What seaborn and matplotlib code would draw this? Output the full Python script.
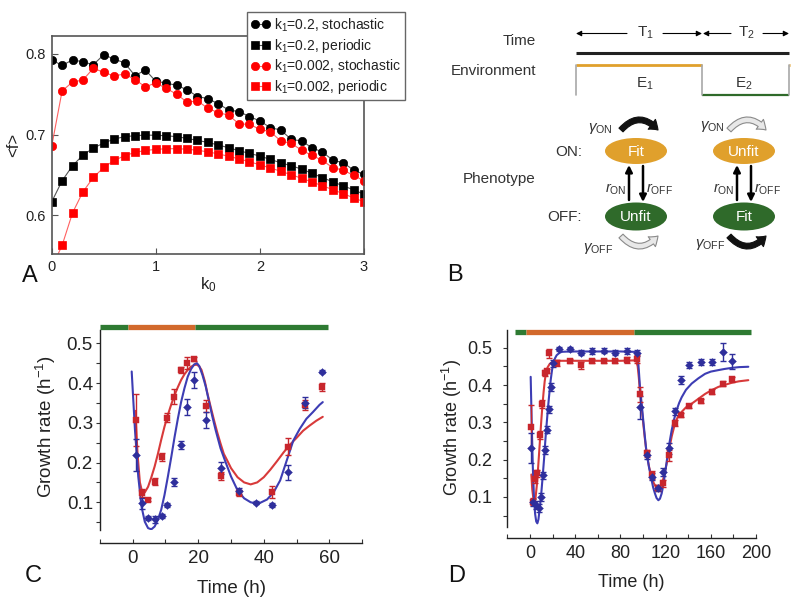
import numpy as np
import pandas as pd
import matplotlib
matplotlib.use('Agg')
import matplotlib.pyplot as plt
import seaborn as sns
from matplotlib.patches import Ellipse, FancyArrowPatch

# ---------------- DATA ----------------
# Panel A
k0 = [0.0, 0.1, 0.2, 0.3, 0.4, 0.5, 0.6, 0.7, 0.8, 0.9, 1.0, 1.1, 1.2, 1.3, 1.4, 1.5,
      1.6, 1.7, 1.8, 1.9, 2.0, 2.1, 2.2, 2.3, 2.4, 2.5, 2.6, 2.7, 2.8, 2.9, 3.0]
stoch_k1_02 = [0.7925, 0.7855, 0.7925, 0.7900, 0.7865, 0.7988, 0.7934, 0.7888, 0.7728, 0.7800,
               0.7658, 0.7638, 0.7608, 0.7555, 0.7470, 0.7445, 0.7380, 0.7304, 0.7284, 0.7222,
               0.7168, 0.7085, 0.7056, 0.6940, 0.6920, 0.6836, 0.6783, 0.6683, 0.6650, 0.6560, 0.6505]
period_k1_02 = [0.6166, 0.6427, 0.6613, 0.6745, 0.6832, 0.6894, 0.6944, 0.6973, 0.6985, 0.6993,
                0.6990, 0.6985, 0.6973, 0.6952, 0.6927, 0.6902, 0.6870, 0.6836, 0.6799, 0.6766,
                0.6733, 0.6691, 0.6650, 0.6613, 0.6572, 0.6520, 0.6466, 0.6414, 0.6364, 0.6315, 0.6260]
stoch_k1_0002 = [0.6855, 0.7540, 0.7650, 0.7675, 0.7820, 0.7770, 0.7725, 0.7750, 0.7680, 0.7590,
                 0.7640, 0.7570, 0.7500, 0.7400, 0.7416, 0.7325, 0.7270, 0.7240, 0.7130, 0.7126,
                 0.7064, 0.7035, 0.6920, 0.6890, 0.6807, 0.6740, 0.6680, 0.6588, 0.6560, 0.6493, 0.6427]
period_k1_0002 = [0.5350, 0.5627, 0.6029, 0.6290, 0.6468, 0.6592, 0.6679, 0.6737, 0.6778, 0.6803,
                  0.6815, 0.6824, 0.6824, 0.6818, 0.6805, 0.6785, 0.6760, 0.6730, 0.6698, 0.6662,
                  0.6625, 0.6585, 0.6545, 0.6502, 0.6458, 0.6412, 0.6365, 0.6317, 0.6267, 0.6216, 0.6166]
legend_labels = ['k$_1$=0.2, stochastic', 'k$_1$=0.2, periodic',
                 'k$_1$=0.002, stochastic', 'k$_1$=0.002, periodic']

# Panel C
C_red_t = [0.9, 2.9, 4.7, 6.8, 8.8, 10.6, 12.6, 14.6, 16.6, 18.6, 22.3, 27.0, 32.4, 42.6, 47.5, 52.6, 57.7]
C_red_v = [0.307, 0.123, 0.106, 0.152, 0.213, 0.313, 0.366, 0.433, 0.450, 0.460, 0.342, 0.165,
           0.124, 0.127, 0.240, 0.345, 0.391]
C_red_e = [0.065, 0.010, 0.004, 0.008, 0.010, 0.012, 0.020, 0.008, 0.015, 0.005, 0.015, 0.010,
           0.008, 0.015, 0.022, 0.012, 0.010]
C_blue_t = [0.9, 2.9, 4.7, 6.8, 8.8, 10.6, 12.6, 14.6, 16.6, 18.6, 22.3, 27.0, 32.4, 37.5, 42.6, 47.5, 52.6, 57.7]
C_blue_v = [0.219, 0.097, 0.061, 0.057, 0.066, 0.092, 0.150, 0.243, 0.339, 0.408, 0.306, 0.186,
            0.128, 0.099, 0.093, 0.175, 0.351, 0.429]
C_blue_e = [0.040, 0.015, 0.005, 0.008, 0.005, 0.005, 0.010, 0.010, 0.020, 0.020, 0.020, 0.015,
            0.008, 0.004, 0.004, 0.020, 0.015, 0.005]
C_bluefit_t = [-0.3, 0.7, 1.7, 2.7, 3.7, 4.7, 5.7, 6.7, 7.7, 8.7, 9.7, 10.75, 11.8, 12.8, 13.8, 14.8,
               15.8, 16.8, 17.8, 18.8, 19.6, 20.3, 21.3, 22.3, 23.3, 24.3, 25.3, 26.8, 28.3, 30,
               32, 34, 36, 37.5, 39, 41, 43, 45, 47, 49, 51, 53, 55, 57, 58]
C_bluefit_v = [0.429, 0.282, 0.165, 0.089, 0.051, 0.035, 0.032, 0.039, 0.056, 0.081, 0.118, 0.165,
               0.215, 0.265, 0.311, 0.353, 0.387, 0.416, 0.435, 0.447, 0.450, 0.443, 0.420, 0.391,
               0.353, 0.316, 0.282, 0.236, 0.202, 0.165, 0.130, 0.110, 0.100, 0.0975, 0.099, 0.107,
               0.125, 0.155, 0.205, 0.255, 0.285, 0.310, 0.327, 0.345, 0.352]
C_redfit_t = [0.8, 1.5, 2.2, 3.0, 3.7, 4.7, 5.7, 6.7, 7.7, 8.7, 9.7, 10.75, 11.8, 12.8, 13.8, 14.8,
              15.8, 16.8, 17.8, 18.8, 19.6, 20.3, 21.0, 22.0, 22.8, 23.8, 24.8, 25.8, 26.8, 27.8,
              28.8, 30, 32, 34, 36, 38, 40, 42, 44, 46, 48, 50, 52, 54, 56, 58]
C_redfit_v = [0.330, 0.220, 0.150, 0.122, 0.125, 0.139, 0.163, 0.190, 0.222, 0.257, 0.290, 0.320,
              0.347, 0.370, 0.390, 0.408, 0.422, 0.433, 0.441, 0.4455, 0.446, 0.442, 0.433, 0.405,
              0.374, 0.340, 0.307, 0.276, 0.248, 0.222, 0.206, 0.186, 0.163, 0.150, 0.145, 0.150,
              0.163, 0.182, 0.203, 0.225, 0.245, 0.262, 0.280, 0.293, 0.305, 0.315]
C_env_edges = [-10, -1.3, 19.0, 59.5]

# Panel D
D_red_t = [0.6, 2.9, 4.7, 6.5, 8.8, 10.6, 13.0, 14.7, 16.5, 24.2, 35.4, 45.1, 54.9, 65.5, 75.2, 85.5,
           94.4, 97.3, 103.2, 108.3, 113.0, 118.0, 123.0, 128.3, 133.6, 140.7, 151.3, 161.4, 171.1, 179.0]
D_red_v = [0.288, 0.087, 0.147, 0.163, 0.266, 0.349, 0.431, 0.438, 0.485, 0.460, 0.465, 0.453,
           0.464, 0.464, 0.464, 0.468, 0.470, 0.375, 0.217, 0.159, 0.123, 0.136, 0.212, 0.297,
           0.320, 0.344, 0.357, 0.382, 0.404, 0.415]
D_red_e = [0.058, 0.010, 0.010, 0.010, 0.010, 0.010, 0.008, 0.006, 0.012, 0.008, 0.006, 0.010,
           0.006, 0.006, 0.006, 0.008, 0.010, 0.020, 0.010, 0.010, 0.008, 0.010, 0.015, 0.008,
           0.006, 0.006, 0.006, 0.006, 0.006, 0.006]
D_blue_t = [0.6, 2.9, 5.3, 7.7, 9.4, 11.2, 13.0, 14.7, 16.5, 18.3, 20.6, 26.0, 35.4, 45.1, 54.9, 65.5,
            75.2, 85.5, 94.4, 97.3, 103.2, 108.3, 113.0, 118.0, 123.0, 128.3, 133.6, 140.7, 151.3,
            161.4, 171.1, 179.0]
D_blue_v = [0.230, 0.085, 0.078, 0.070, 0.100, 0.158, 0.226, 0.280, 0.335, 0.395, 0.458, 0.496,
            0.496, 0.487, 0.492, 0.492, 0.487, 0.492, 0.487, 0.340, 0.212, 0.154, 0.123, 0.167,
            0.230, 0.329, 0.413, 0.455, 0.462, 0.462, 0.489, 0.464]
D_blue_e = [0.040, 0.010, 0.010, 0.010, 0.010, 0.010, 0.010, 0.010, 0.010, 0.010, 0.010, 0.006,
            0.006, 0.006, 0.008, 0.006, 0.006, 0.008, 0.008, 0.030, 0.010, 0.010, 0.008, 0.010,
            0.015, 0.010, 0.010, 0.008, 0.008, 0.008, 0.025, 0.020]
D_bluefit_t = [0.6, 1.5, 2.5, 3.5, 4.5, 5.5, 6.5, 7.5, 8.8, 10, 11.2, 12.4, 13.6, 14.8, 16, 17.2, 18.3,
               19.5, 20.6, 22, 23.6, 26, 28, 35, 60, 80, 92, 94, 95.3, 96.3, 97.3, 98.8, 100.2,
               101.7, 103.2, 105.4, 107.6, 109, 110.6, 112, 113.6, 115, 116.5, 118, 119.5, 121,
               122.4, 124, 125.4, 127.5, 129.8, 132, 134.2, 138, 143.1, 149, 154.9, 160, 166.7,
               172, 178.5, 185, 193.2]
D_bluefit_v = [0.422, 0.300, 0.180, 0.100, 0.055, 0.034, 0.029, 0.040, 0.074, 0.110, 0.154, 0.200,
               0.252, 0.298, 0.342, 0.380, 0.413, 0.440, 0.458, 0.471, 0.480, 0.486, 0.489, 0.490,
               0.490, 0.490, 0.489, 0.487, 0.480, 0.440, 0.395, 0.350, 0.306, 0.260, 0.217, 0.178,
               0.145, 0.125, 0.109, 0.097, 0.091, 0.095, 0.109, 0.132, 0.163, 0.195, 0.226, 0.255,
               0.279, 0.308, 0.333, 0.352, 0.367, 0.387, 0.404, 0.418, 0.430, 0.436, 0.440, 0.443,
               0.446, 0.448, 0.449]
D_redfit_t = [1.2, 2.0, 3.0, 4.0, 5.0, 6.0, 7.0, 8.0, 9.0, 10.0, 11.0, 12.0, 13.0, 14.0, 15.5, 17.5,
              20, 24, 40, 60, 80, 92, 94, 95.3, 96.3, 97.3, 98.8, 100.2, 101.7, 103.2, 105.4, 107.6,
              109.5, 112, 114, 116.5, 118.5, 121, 123, 125.4, 128.3, 131, 134.2, 138, 143.1, 149,
              154.9, 160, 166.7, 172, 178.5, 185, 193.2]
D_redfit_v = [0.160, 0.120, 0.095, 0.088, 0.100, 0.130, 0.170, 0.215, 0.260, 0.305, 0.345, 0.380,
              0.410, 0.430, 0.447, 0.457, 0.462, 0.465, 0.465, 0.465, 0.465, 0.466, 0.464, 0.450,
              0.420, 0.382, 0.340, 0.297, 0.255, 0.217, 0.180, 0.154, 0.137, 0.124, 0.122, 0.132,
              0.155, 0.190, 0.225, 0.262, 0.297, 0.316, 0.328, 0.340, 0.350, 0.363, 0.376, 0.385,
              0.395, 0.400, 0.406, 0.410, 0.413]
D_env_edges = [-13.3, -3.5, 92.3, 196.0]

# ---------------- STYLE ----------------
sns.set_theme(style='ticks')
plt.rcParams['font.family'] = ['Liberation Sans', 'DejaVu Sans']
plt.rcParams['mathtext.fontset'] = 'custom'
plt.rcParams['mathtext.rm'] = 'Liberation Sans'
plt.rcParams['mathtext.it'] = 'Liberation Sans:italic'
plt.rcParams['mathtext.bf'] = 'Liberation Sans:bold'

RED_D = '#c8262c'
BLUE_D = '#2f2f9c'
RED_L = '#d83a3a'
BLUE_L = '#3d3db4'
GREEN_BAR = '#2e7a32'
ORANGE_BAR = '#d2692c'
TXT = '#333333'

W, H = 800, 613
fig = plt.figure(figsize=(8, 6.13), dpi=100)


def rect(l, t, r, b):
    return [l / W, 1 - b / H, (r - l) / W, (b - t) / H]

# ---------------- PANEL A ----------------
axA = fig.add_axes(rect(51.7, 36, 364, 254))
seriesA = [(stoch_k1_02, 'o', 'black', '#555555'),
           (period_k1_02, 's', 'black', '#555555'),
           (stoch_k1_0002, 'o', '#ff0000', '#ff6060'),
           (period_k1_0002, 's', '#ff0000', '#ff6060')]
for (vals, mk, mc, lc), lab in zip(seriesA, legend_labels):
    sns.lineplot(x=k0, y=vals, ax=axA, color=lc, linewidth=0.8, marker=mk,
                 markersize=6 if mk == 'o' else 5.5, markerfacecolor=mc,
                 markeredgecolor=mc, markeredgewidth=0.5, label=lab, clip_on=True)
axA.set_xlim(0, 3)
axA.set_ylim(0.552, 0.822)
axA.set_xticks([0, 1, 2, 3])
axA.set_xticklabels(['0', '1', '2', '3'])
axA.set_yticks([0.6, 0.7, 0.8])
axA.set_yticklabels(['0.6', '0.7', '0.8'])
for s in axA.spines.values():
    s.set_color('#555555')
    s.set_linewidth(1.2)
axA.tick_params(direction='in', length=4, width=0.8, colors='#555555', labelsize=10.5,
                labelcolor='#222222', pad=4)
axA.set_xlabel('k$_0$', fontsize=12, color='#222222', labelpad=1)
axA.set_ylabel('<f>', fontsize=12, color='#222222', labelpad=3)
leg = axA.legend(loc='upper left', bbox_to_anchor=(247 / W, 1 - 12 / H),
                 bbox_transform=fig.transFigure, fontsize=10, numpoints=2,
                 handlelength=1.4, handletextpad=0.25, labelspacing=0.22,
                 borderpad=0.3, fancybox=False, framealpha=1, edgecolor='#666666',
                 borderaxespad=0)
leg.get_frame().set_linewidth(1.0)
leg.set_zorder(5)
for txt in leg.get_texts():
    txt.set_color('#222222')

# ---------------- PANEL C / D helper ----------------

def growth_axes(ax, xlim, ylim, spine_top, xmaj, xmin, offset, xlabpad, ylabpad, lsize):
    ax.set_xlim(*xlim)
    ax.set_ylim(*ylim)
    ax.spines['top'].set_visible(False)
    ax.spines['right'].set_visible(False)
    ax.spines['left'].set_bounds(ylim[0], spine_top)
    ax.spines['bottom'].set_position(('outward', offset))
    ax.spines['bottom'].set_bounds(*xlim)
    for s in ('left', 'bottom'):
        ax.spines[s].set_color('#222222')
        ax.spines[s].set_linewidth(1.0)
    ax.set_yticks([0.1, 0.2, 0.3, 0.4, 0.5])
    ax.set_yticklabels(['0.1', '0.2', '0.3', '0.4', '0.5'])
    ax.set_yticks([0.05, 0.15, 0.25, 0.35, 0.45], minor=True)
    ax.set_xticks(xmaj)
    ax.set_xticklabels([str(v) for v in xmaj])
    ax.set_xticks(xmin, minor=True)
    ax.tick_params(axis='y', which='both', direction='out', length=3, width=0.8,
                   colors='#333333', labelsize=lsize, labelcolor='#222222', pad=ylabpad)
    ax.tick_params(axis='x', which='both', direction='in', length=3, width=0.8,
                   colors='#333333', labelsize=lsize, labelcolor='#222222', pad=xlabpad)
    ax.set_facecolor('none')


def env_bar(ax, edges, y, cols):
    for i in range(len(edges) - 1):
        ax.hlines(y, edges[i], edges[i + 1], colors=cols[i], linewidth=3.8,
                  clip_on=False, zorder=1)


def data_layer(ax, t, v, e, col, marker):
    ax.errorbar(t, v, yerr=e, fmt='none', ecolor=col, elinewidth=1.0, capsize=2.2,
                capthick=1.0, zorder=3)
    sns.scatterplot(x=t, y=v, ax=ax, color=col, marker=marker, s=16, edgecolor=col,
                    linewidth=0.3, zorder=4, legend=False)

# ---------------- PANEL C ----------------
axC = fig.add_axes(rect(99.9, 324.2, 362.1, 530.1))
growth_axes(axC, (-10, 70), (0.03, 0.548), 0.533, [0, 20, 40, 60],
            [-10, 10, 30, 50, 70], 9, 5.5, 2, 13.5)
env_bar(axC, C_env_edges, 0.5418, [GREEN_BAR, ORANGE_BAR, GREEN_BAR])
sns.lineplot(x=C_redfit_t, y=C_redfit_v, ax=axC, color=RED_L, linewidth=1.5, zorder=2)
sns.lineplot(x=C_bluefit_t, y=C_bluefit_v, ax=axC, color=BLUE_L, linewidth=1.5, zorder=2)
data_layer(axC, C_red_t, C_red_v, C_red_e, RED_D, 's')
data_layer(axC, C_blue_t, C_blue_v, C_blue_e, BLUE_D, 'D')
axC.set_xlabel('Time (h)', fontsize=13.5, color='#222222', labelpad=9)
axC.set_ylabel('Growth rate (h$^{-1}$)', fontsize=13.5, color='#222222', labelpad=6)

# ---------------- PANEL D ----------------
axD = fig.add_axes(rect(507.4, 329.1, 756.0, 526.7))
growth_axes(axD, (-20, 200), (0.02, 0.55), 0.547, [0, 40, 80, 120, 160, 200],
            [-20, 20, 60, 100, 140, 180], 8, 5, 8, 13)
env_bar(axD, D_env_edges, 0.541, [GREEN_BAR, ORANGE_BAR, GREEN_BAR])
sns.lineplot(x=D_redfit_t, y=D_redfit_v, ax=axD, color=RED_L, linewidth=1.5, zorder=2)
sns.lineplot(x=D_bluefit_t, y=D_bluefit_v, ax=axD, color=BLUE_L, linewidth=1.5, zorder=2)
data_layer(axD, D_red_t, D_red_v, D_red_e, RED_D, 's')
data_layer(axD, D_blue_t, D_blue_v, D_blue_e, BLUE_D, 'D')
axD.set_xlabel('Time (h)', fontsize=13, color='#222222', labelpad=9)
axD.set_ylabel('Growth rate (h$^{-1}$)', fontsize=13, color='#222222', labelpad=2)

# ---------------- PANEL B (diagram, pixel coordinates) ----------------
axB = fig.add_axes(rect(400, 0, 800, 306.5))
axB.set_xlim(400, 800)
axB.set_ylim(306.5, 0)
axB.axis('off')

ORANGE = '#e0a02c'
GREEN = '#2f6a2a'
GRAYL = '#a8a8a8'
fs = 11

axB.text(536, 41, 'Time', ha='right', va='center', fontsize=fs, color=TXT)
axB.text(536, 71, 'Environment', ha='right', va='center', fontsize=fs, color=TXT)
axB.text(536, 179, 'Phenotype', ha='right', va='center', fontsize=fs, color=TXT)

arr_kw = dict(arrowstyle='-|>', color='black', lw=0.8, mutation_scale=8, shrinkA=0, shrinkB=0)
for x0, x1 in [(627, 576), (663, 702), (731, 703), (763, 789)]:
    axB.annotate('', xy=(x1, 33.5), xytext=(x0, 33.5), arrowprops=arr_kw)
axB.text(645, 33, 'T$_1$', ha='center', va='center', fontsize=fs, color=TXT)
axB.text(746, 33, 'T$_2$', ha='center', va='center', fontsize=fs, color=TXT)
axB.plot([576, 789], [52.5, 52.5], color='#222222', lw=2.2, solid_capstyle='butt')

axB.plot([576, 702], [64.5, 64.5], color=ORANGE, lw=2.0, solid_capstyle='butt')
axB.plot([702, 789], [95, 95], color=GREEN, lw=1.6, solid_capstyle='butt')
axB.plot([789, 790], [64.5, 64.5], color=ORANGE, lw=2.0, solid_capstyle='butt')
for xv in (576, 702, 789):
    axB.plot([xv, xv], [65, 95], color=GRAYL, lw=1.2)
axB.text(645, 84, 'E$_1$', ha='center', va='center', fontsize=fs, color=TXT)
axB.text(744, 84, 'E$_2$', ha='center', va='center', fontsize=fs, color=TXT)

axB.text(582, 152, 'ON:', ha='right', va='center', fontsize=fs, color=TXT)
axB.text(582, 217, 'OFF:', ha='right', va='center', fontsize=fs, color=TXT)

for cx, top_lab, bot_lab in [(636, 'Fit', 'Unfit'), (744, 'Unfit', 'Fit')]:
    axB.add_patch(Ellipse((cx, 151), 62, 26, facecolor=ORANGE, edgecolor='none'))
    axB.add_patch(Ellipse((cx, 216.5), 62, 28, facecolor=GREEN, edgecolor='none'))
    axB.text(cx, 151.5, top_lab, ha='center', va='center', fontsize=11, color='white')
    axB.text(cx, 217, bot_lab, ha='center', va='center', fontsize=11, color='white')
    vk = dict(arrowstyle='-|>', color='black', lw=1.8, mutation_scale=10, shrinkA=0, shrinkB=0)
    axB.annotate('', xy=(cx - 7, 165), xytext=(cx - 7, 200), arrowprops=vk)
    axB.annotate('', xy=(cx + 7, 202), xytext=(cx + 7, 166), arrowprops=vk)
    axB.text(cx - 10, 189, '$r_{\\mathrm{ON}}$', ha='right', va='center', fontsize=10.5, color=TXT)
    axB.text(cx + 10, 189, '$r_{\\mathrm{OFF}}$', ha='left', va='center', fontsize=10.5, color=TXT)


def curved(x0, x1, y, rad, face, edge):
    p = FancyArrowPatch((x0, y), (x1, y), connectionstyle=f'arc3,rad={rad}',
                        arrowstyle='simple,head_length=0.55,head_width=0.8,tail_width=0.36',
                        mutation_scale=11, facecolor=face, edgecolor=edge, lw=0.8,
                        shrinkA=0, shrinkB=0)
    axB.add_patch(p)

curved(621, 658, 130, -0.55, '#111111', '#111111')
curved(621, 658, 236, 0.55, '#e8e8e8', '#8a8a8a')
curved(729, 766, 130, -0.55, '#e8e8e8', '#8a8a8a')
curved(729, 766, 236, 0.55, '#111111', '#111111')
axB.text(600, 128, '$\\gamma_{\\mathrm{ON}}$', ha='center', va='center', fontsize=11, color=TXT)
axB.text(598, 248, '$\\gamma_{\\mathrm{OFF}}$', ha='center', va='center', fontsize=11, color=TXT)
axB.text(712, 127, '$\\gamma_{\\mathrm{ON}}$', ha='center', va='center', fontsize=11, color=TXT)
axB.text(710, 244, '$\\gamma_{\\mathrm{OFF}}$', ha='center', va='center', fontsize=11, color=TXT)

# ---------------- PANEL LABELS ----------------
for lab, x, y in [('A', 30, 276), ('B', 455, 275), ('C', 33, 576), ('D', 457, 576)]:
    fig.text(x / W, 1 - y / H, lab, ha='center', va='center', fontsize=17, color='#111111')

fig.savefig('out.png', dpi=100)
